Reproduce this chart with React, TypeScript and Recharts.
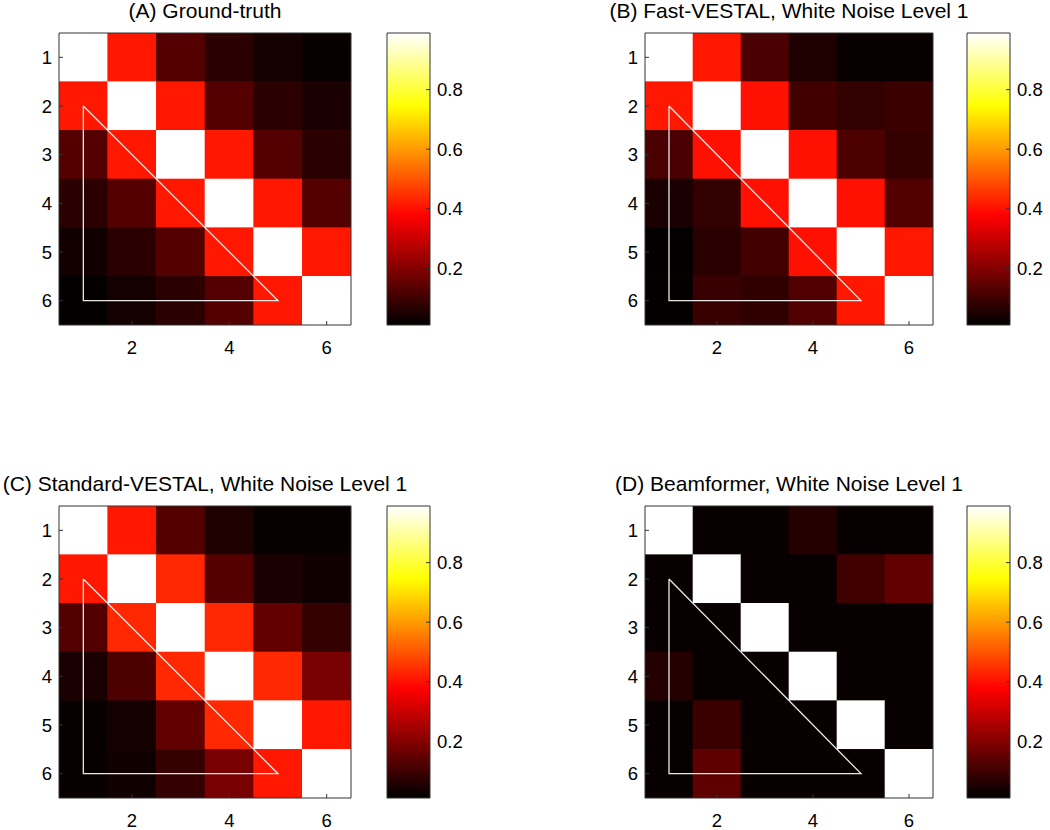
import React from "react";
import { ScatterChart, Scatter, XAxis, YAxis, BarChart, Bar } from "recharts";

// matrix indices and ticks
const ROWS = [1, 2, 3, 4, 5, 6];
const COLS = [1, 2, 3, 4, 5, 6];
const X_TICKS = [2, 4, 6];
const Y_TICKS = [1, 2, 3, 4, 5, 6];
const CBAR_TICKS = [0.2, 0.4, 0.6, 0.8];
const CLIM = [0.01, 0.99];

// correlation matrices, row by row
const groundTruth = [
  [1, 0.41, 0.132, 0.071, 0.04, 0.021],
  [0.41, 1, 0.41, 0.132, 0.071, 0.047],
  [0.132, 0.41, 1, 0.41, 0.132, 0.071],
  [0.071, 0.132, 0.41, 1, 0.41, 0.132],
  [0.036, 0.071, 0.132, 0.41, 1, 0.41],
  [0.017, 0.04, 0.071, 0.132, 0.41, 1],
];
const fastVestal = [
  [1, 0.41, 0.117, 0.053, 0.021, 0.021],
  [0.41, 1, 0.4, 0.102, 0.083, 0.093],
  [0.117, 0.4, 1, 0.4, 0.12, 0.086],
  [0.047, 0.083, 0.4, 1, 0.4, 0.128],
  [0.017, 0.071, 0.105, 0.4, 1, 0.41],
  [0.017, 0.091, 0.079, 0.125, 0.41, 1],
];
const standardVestal = [
  [1, 0.41, 0.132, 0.053, 0.021, 0.021],
  [0.41, 1, 0.435, 0.132, 0.047, 0.033],
  [0.128, 0.435, 1, 0.435, 0.151, 0.086],
  [0.047, 0.12, 0.435, 1, 0.435, 0.183],
  [0.021, 0.04, 0.148, 0.435, 1, 0.41],
  [0.021, 0.033, 0.086, 0.183, 0.41, 1],
];
const beamformer = [
  [1, 0.021, 0.021, 0.063, 0.021, 0.021],
  [0.021, 1, 0.021, 0.021, 0.102, 0.148],
  [0.021, 0.021, 1, 0.021, 0.021, 0.021],
  [0.063, 0.021, 0.021, 1, 0.021, 0.021],
  [0.021, 0.093, 0.021, 0.021, 1, 0.021],
  [0.021, 0.145, 0.021, 0.021, 0.021, 1],
];

// white triangle corners (col, row), closed
const TRIANGLE = [
  { x: 1, y: 2 },
  { x: 1, y: 6 },
  { x: 5, y: 6 },
  { x: 1, y: 2 },
];

const PANELS = [
  { id: "A", title: "(A) Ground-truth", matrix: groundTruth, plotX: 59, plotY: 33, plotW: 292, plotH: 292, cbX: 387 },
  { id: "B", title: "(B) Fast-VESTAL, White Noise Level 1", matrix: fastVestal, plotX: 645, plotY: 33, plotW: 288, plotH: 292, cbX: 967 },
  { id: "C", title: "(C) Standard-VESTAL, White Noise Level 1", matrix: standardVestal, plotX: 59, plotY: 506, plotW: 292, plotH: 292, cbX: 387 },
  { id: "D", title: "(D) Beamformer, White Noise Level 1", matrix: beamformer, plotX: 645, plotY: 506, plotW: 288, plotH: 292, cbX: 967 },
];

const CB_W = 43;
const CB_R = 60;
const L = 70;
const R = 70;
const T = 40;
const B = 36;
const AXIS = "#333";
const TICK = { fill: "#000", fontSize: 18.5 };
const DOMAIN = [0.5, 6.5];

const clamp = (v: number) => Math.max(0, Math.min(1, v));

// matlab "hot" colormap
const hot = (v: number) => {
  const f = clamp((v - CLIM[0]) / (CLIM[1] - CLIM[0]));
  const r = Math.round(255 * clamp(f / 0.375));
  const g = Math.round(255 * clamp((f - 0.375) / 0.375));
  const b = Math.round(255 * clamp((f - 0.75) / 0.25));
  return `rgb(${r},${g},${b})`;
};

const toCells = (m: number[][]) =>
  ROWS.flatMap((r) => COLS.map((c) => ({ x: c, y: r, v: m[r - 1][c - 1] })));

type Panel = (typeof PANELS)[number];

const Heatmap = ({ p }: { p: Panel }) => {
  const cw = p.plotW / COLS.length;
  const ch = p.plotH / ROWS.length;
  const w = L + p.plotW + R;
  const h = T + p.plotH + B;
  const pos = { position: "absolute" as const, left: p.plotX - L, top: p.plotY - T };
  return (
    <>
      {/* cells */}
      <div style={pos}>
        <ScatterChart width={w} height={h} margin={{ top: T, right: R, bottom: B, left: L }}>
          <XAxis type="number" dataKey="x" domain={DOMAIN} hide allowDataOverflow />
          <YAxis type="number" dataKey="y" domain={DOMAIN} reversed hide allowDataOverflow />
          <Scatter
            data={toCells(p.matrix)}
            isAnimationActive={false}
            shape={(props: any) => (
              <rect
                x={props.cx - cw / 2 - 0.3}
                y={props.cy - ch / 2 - 0.3}
                width={cw + 0.6}
                height={ch + 0.6}
                fill={hot(props.payload.v)}
              />
            )}
          />
        </ScatterChart>
      </div>
      {/* box, ticks, title and triangle on top */}
      <div style={pos}>
        <ScatterChart width={w} height={h} margin={{ top: 0, right: 0, bottom: 0, left: 0 }}>
          <XAxis
            type="number"
            dataKey="x"
            domain={DOMAIN}
            ticks={X_TICKS}
            height={B}
            tickSize={-4}
            tickMargin={20}
            tick={TICK}
            stroke={AXIS}
            allowDataOverflow
          />
          <XAxis
            xAxisId="top"
            orientation="top"
            type="number"
            domain={DOMAIN}
            ticks={X_TICKS}
            height={T}
            tickSize={-4}
            tick={false}
            stroke={AXIS}
            label={{ value: p.title, position: "insideBottom", offset: 15, fill: "#000", fontSize: 21 }}
          />
          <YAxis
            type="number"
            dataKey="y"
            reversed
            domain={DOMAIN}
            ticks={Y_TICKS}
            width={L}
            tickSize={-4}
            tickMargin={11}
            tick={TICK}
            stroke={AXIS}
            allowDataOverflow
          />
          <YAxis
            yAxisId="right"
            orientation="right"
            type="number"
            reversed
            domain={DOMAIN}
            ticks={Y_TICKS}
            width={R}
            tickSize={-4}
            tick={false}
            stroke={AXIS}
          />
          <Scatter
            data={TRIANGLE}
            isAnimationActive={false}
            line={{ stroke: "#e8e8e8", strokeWidth: 1.3 }}
            shape={() => <g />}
          />
        </ScatterChart>
      </div>
    </>
  );
};

const Colorbar = ({ p }: { p: Panel }) => {
  const gid = `hot-${p.id}`;
  const data = [{ name: "cbar", range: [CLIM[0], CLIM[1]] }];
  const pos = { position: "absolute" as const, left: p.cbX - 2, top: p.plotY - 2 };
  const w = CB_W + 2 + CB_R;
  const h = p.plotH + 4;
  const margin = { top: 2, right: 0, bottom: 2, left: 2 };
  return (
    <>
      <div style={pos}>
        <BarChart width={w} height={h} data={data} margin={{ ...margin, right: CB_R }} barCategoryGap={0}>
          <defs>
            <linearGradient id={gid} x1="0" y1="1" x2="0" y2="0">
              <stop offset="0" stopColor={hot(CLIM[0])} />
              <stop offset="0.375" stopColor="rgb(255,0,0)" />
              <stop offset="0.75" stopColor="rgb(255,255,0)" />
              <stop offset="1" stopColor={hot(CLIM[1])} />
            </linearGradient>
          </defs>
          <XAxis dataKey="name" hide />
          <YAxis type="number" domain={CLIM} hide allowDataOverflow />
          <Bar dataKey="range" fill={`url(#${gid})`} isAnimationActive={false} />
        </BarChart>
      </div>
      <div style={pos}>
        <BarChart width={w} height={h} data={data} margin={margin} barCategoryGap={0}>
          <XAxis dataKey="name" hide />
          <YAxis
            yAxisId="l"
            orientation="left"
            type="number"
            domain={CLIM}
            ticks={CBAR_TICKS}
            width={0.01}
            tickSize={-4}
            tick={false}
            axisLine={false}
            stroke={AXIS}
          />
          <YAxis
            yAxisId="r"
            orientation="right"
            type="number"
            domain={CLIM}
            ticks={CBAR_TICKS}
            width={CB_R}
            tickSize={-4}
            tickMargin={11}
            tick={TICK}
            axisLine={false}
            stroke={AXIS}
          />
          <Bar yAxisId="r" dataKey="range" fill="none" stroke={AXIS} strokeWidth={1} isAnimationActive={false} />
        </BarChart>
      </div>
    </>
  );
};

export default function App() {
  return (
    <div
      style={{
        position: "absolute",
        left: 0,
        top: 0,
        width: 1050,
        height: 830,
        background: "#fff",
        fontFamily: '"Liberation Sans", Arial, Helvetica, sans-serif',
        overflow: "hidden",
      }}
    >
      {PANELS.map((p) => (
        <React.Fragment key={p.id}>
          <Heatmap p={p} />
          <Colorbar p={p} />
        </React.Fragment>
      ))}
    </div>
  );
}
